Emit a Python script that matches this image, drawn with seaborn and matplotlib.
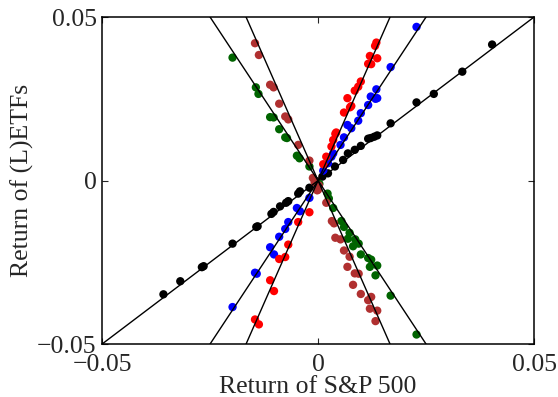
import matplotlib
matplotlib.use("Agg")
import matplotlib.pyplot as plt
import seaborn as sns
import pandas as pd
import numpy as np

# readings from the picture: S&P 500 return (x) vs (L)ETF return (y)
black_x = [0.0403, 0.0334, 0.0268, 0.0228, 0.0168, 0.0137, 0.0130, 0.0122, 0.0116, 0.0099, 0.0085,
           0.0069, 0.0058, 0.0039, 0.0023, 0.0010, -0.0004, -0.0020, -0.0042, -0.0046, -0.0069, -0.0074,
           -0.0088, -0.0103, -0.0108, -0.0140, -0.0143, -0.0198, -0.0265, -0.0269, -0.0319, -0.0358]
black_y = [0.0416, 0.0333, 0.0265, 0.0239, 0.0175, 0.0138, 0.0134, 0.0130, 0.0128, 0.0106, 0.0094,
           0.0083, 0.0063, 0.0043, 0.0022, 0.0012, -0.0002, -0.0022, -0.0033, -0.0040, -0.0063, -0.0068,
           -0.0079, -0.0096, -0.0102, -0.0140, -0.0142, -0.0193, -0.0262, -0.0265, -0.0308, -0.0348]

blue_x = [0.0228, 0.0168, 0.0135, 0.0137, 0.0133, 0.0122, 0.0116, 0.0099, 0.0093, 0.0077, 0.0068,
          0.0060, 0.0052, 0.0035, 0.0031, 0.0023, 0.0012, -0.0002, -0.0020, -0.0042, -0.0049, -0.0069,
          -0.0076, -0.0090, -0.0102, -0.0111, -0.0142, -0.0146, -0.0198]
blue_y = [0.0470, 0.0347, 0.0279, 0.0252, 0.0250, 0.0257, 0.0231, 0.0206, 0.0183, 0.0160, 0.0170,
          0.0132, 0.0109, 0.0083, 0.0073, 0.0053, 0.0030, -0.0010, -0.0053, -0.0094, -0.0084, -0.0127,
          -0.0148, -0.0172, -0.0226, -0.0204, -0.0285, -0.0282, -0.0387]

red_x = [0.0135, 0.0132, 0.0120, 0.0137, 0.0116, 0.0123, 0.0099, 0.0093, 0.0085, 0.0068, 0.0077,
         0.0074, 0.0060, 0.0042, 0.0040, 0.0035, 0.0031, 0.0019, 0.0012, -0.0002, -0.0020, -0.0046,
         -0.0069, -0.0076, -0.0090, -0.0102, -0.0111, -0.0137, -0.0146]
red_y = [0.0422, 0.0412, 0.0381, 0.0374, 0.0357, 0.0356, 0.0303, 0.0287, 0.0275, 0.0252, 0.0228,
         0.0224, 0.0208, 0.0147, 0.0143, 0.0124, 0.0104, 0.0073, 0.0050, -0.0005, -0.0097, -0.0127,
         -0.0196, -0.0234, -0.0240, -0.0338, -0.0305, -0.0440, -0.0425]

green_x = [0.0022, 0.0025, 0.0035, 0.0054, 0.0060, 0.0073, 0.0069, 0.0086, 0.0094, 0.0081, 0.0099,
           0.0116, 0.0123, 0.0120, 0.0137, 0.0133, 0.0168, 0.0228, -0.0198, -0.0144, -0.0138, -0.0111,
           -0.0103, -0.0090, -0.0076, -0.0072, -0.0049, -0.0043, -0.0020, 0.0003]
green_y = [-0.0040, -0.0055, -0.0084, -0.0124, -0.0142, -0.0160, -0.0178, -0.0180, -0.0193, -0.0201, -0.0226,
           -0.0237, -0.0242, -0.0264, -0.0260, -0.0290, -0.0352, -0.0471, 0.0376, 0.0285, 0.0265, 0.0194,
           0.0193, 0.0157, 0.0132, 0.0130, 0.0076, 0.0068, 0.0043, -0.0010]

brown_x = [-0.0146, -0.0137, -0.0111, -0.0103, -0.0090, -0.0076, -0.0069, -0.0046, -0.0020, -0.0012,
           -0.0008, -0.0002, 0.0002, 0.0000, 0.0019, 0.0032, 0.0037, 0.0040, 0.0052, 0.0060, 0.0073,
           0.0068, 0.0085, 0.0094, 0.0081, 0.0099, 0.0116, 0.0123, 0.0120, 0.0137, 0.0133]
brown_y = [0.0420, 0.0384, 0.0293, 0.0285, 0.0235, 0.0196, 0.0187, 0.0109, 0.0061, 0.0008,
           -0.0005, -0.0030, -0.0015, -0.0028, -0.0068, -0.0124, -0.0131, -0.0175, -0.0180, -0.0214, -0.0233,
           -0.0264, -0.0284, -0.0285, -0.0319, -0.0347, -0.0366, -0.0356, -0.0392, -0.0398, -0.0430]

leverage = [1, 2, 3, -2, -3]
names = ["1x", "2x", "3x", "-2x", "-3x"]
colors = ["black", "blue", "red", "#006400", "#b03030"]

sns.set_style("ticks")
plt.rcParams["font.family"] = ["Liberation Serif", "DejaVu Serif"]

frames = []
for n, xs, ys in zip(names, [black_x, blue_x, red_x, green_x, brown_x],
                     [black_y, blue_y, red_y, green_y, brown_y]):
    frames.append(pd.DataFrame({"sp": xs, "etf": ys, "fund": n}))
df = pd.concat(frames, ignore_index=True)

fig = plt.figure(figsize=(5.58, 3.97), dpi=100)
ax = fig.add_axes([0.183, 0.1335, 0.774, 0.8235])

sns.scatterplot(data=df, x="sp", y="etf", hue="fund", palette=dict(zip(names, colors)),
                s=36, linewidth=0, alpha=1, legend=False, ax=ax, zorder=2)

xl = np.array([-0.05, 0.05])
for k in leverage:
    ax.plot(xl, k * xl, color="black", lw=1.0, zorder=3)

ax.set_xlim(-0.05, 0.05)
ax.set_ylim(-0.05, 0.05)
ax.set_xticks([-0.05, 0, 0.05])
ax.set_yticks([-0.05, 0, 0.05])
ax.set_xticklabels(["\u22120.05", "0", "0.05"])
ax.set_yticklabels(["\u22120.05", "0", "0.05"])
ax.tick_params(direction="in", length=4, width=0.8, labelsize=18.5, top=True, right=True, pad=4)
ax.tick_params(axis="x", pad=7)
for sp in ax.spines.values():
    sp.set_linewidth(1.1)
    sp.set_color("black")
ax.set_xlabel("Return of S&P 500", fontsize=18.5, labelpad=0)
ax.set_ylabel("Return of (L)ETFs", fontsize=18.5, labelpad=2)

fig.savefig("out.png", dpi=100)
